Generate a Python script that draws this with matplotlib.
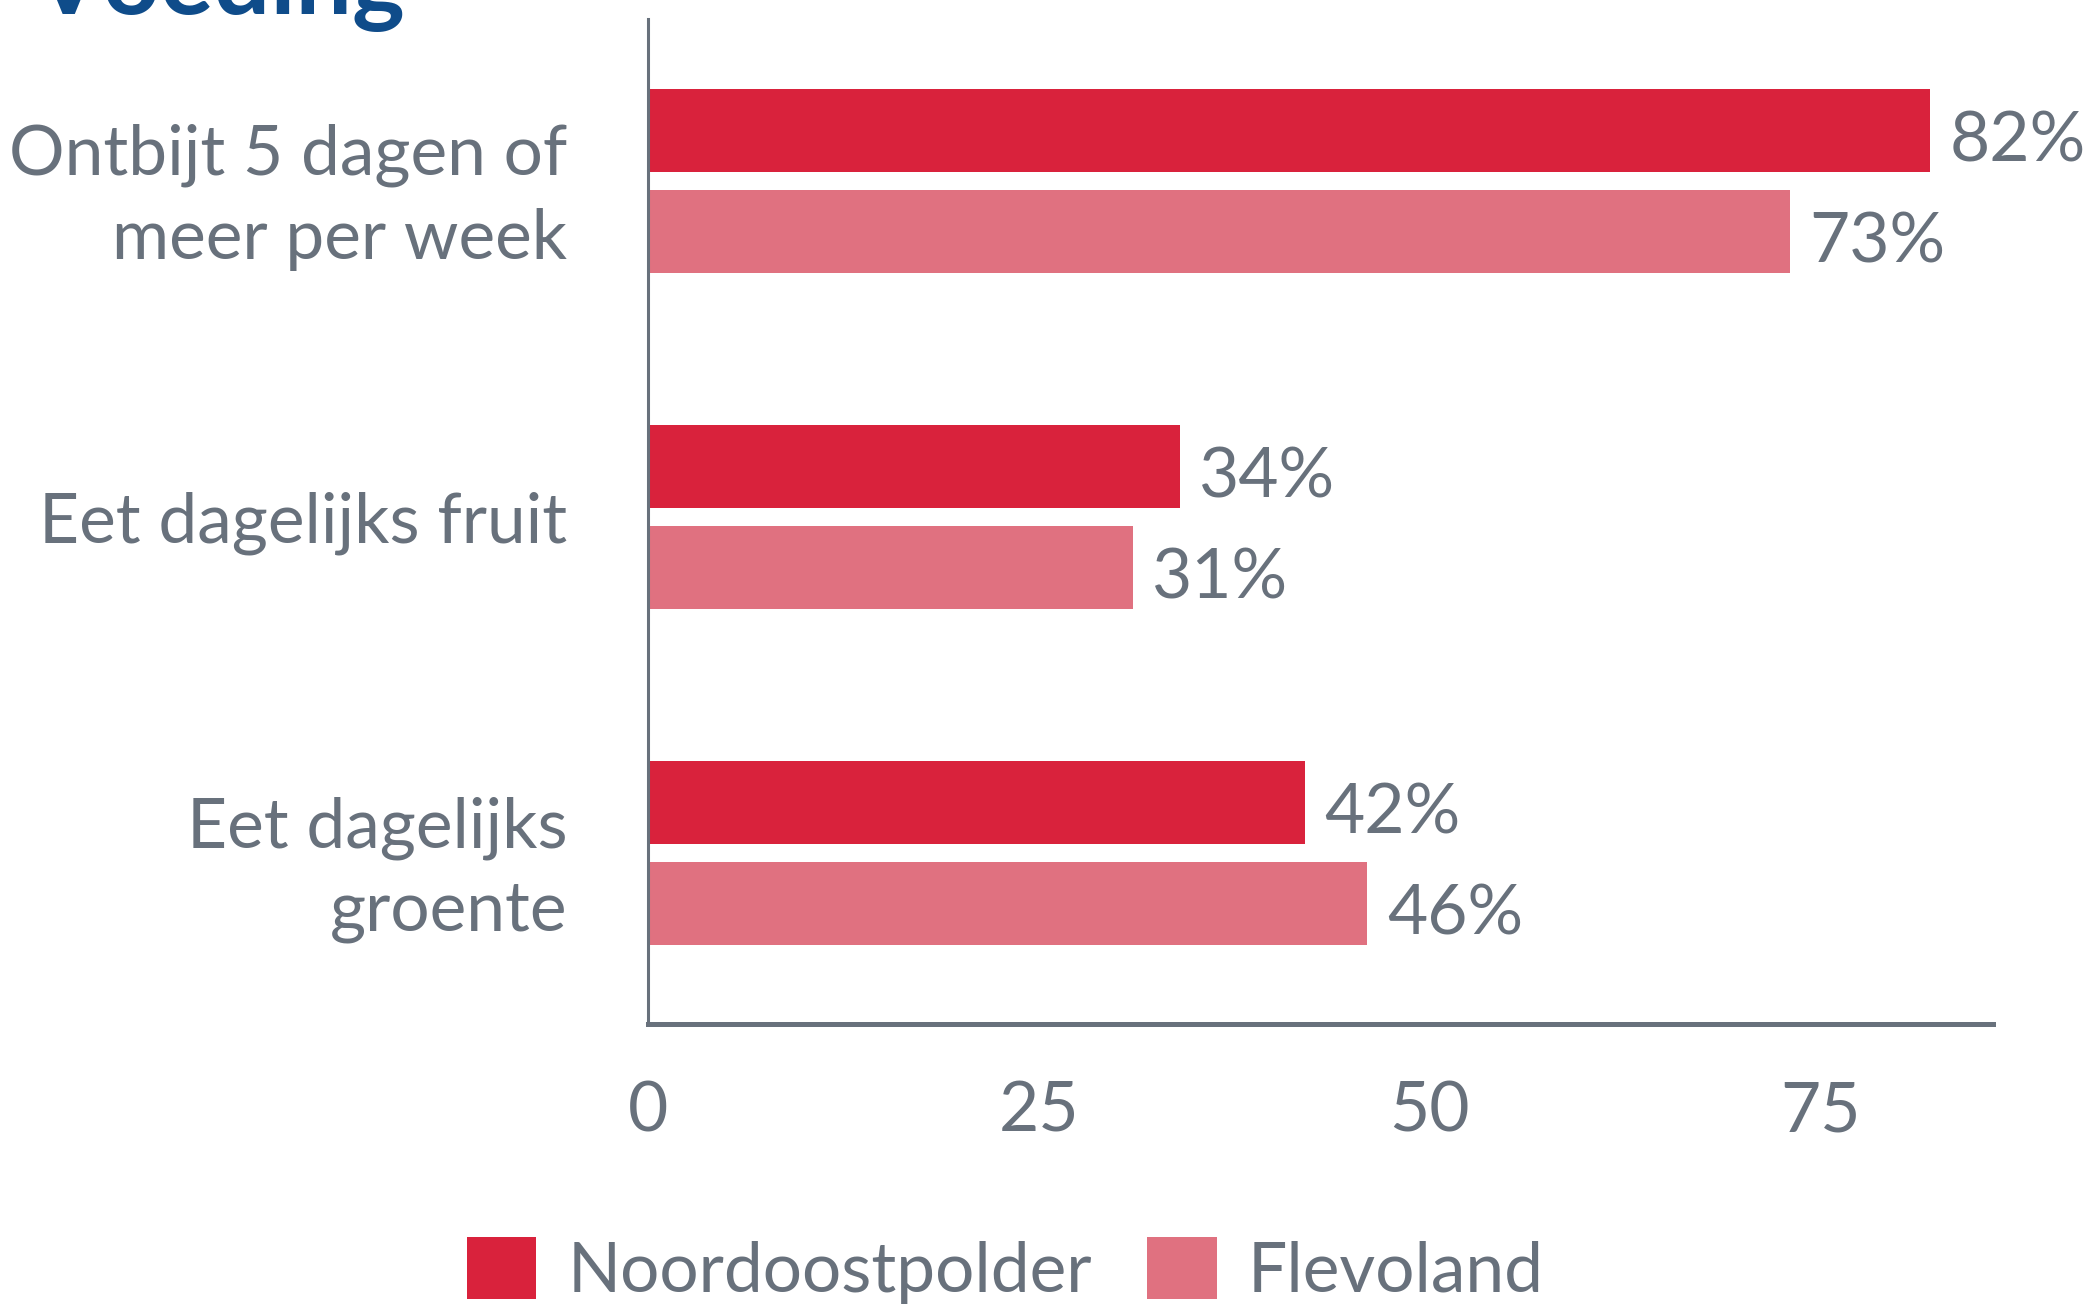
import numpy as np
import matplotlib.pyplot as plt
from matplotlib.patches import Patch

categories = ['Ontbijt 5 dagen of\nmeer per week', 'Eet dagelijks fruit', 'Eet dagelijks\ngroente']
noordoostpolder = [82, 34, 42]
flevoland = [73, 31, 46]
series_names = ['Noordoostpolder', 'Flevoland']
xticks = [0, 25, 50, 75]

red = '#D9223C'
pink = '#E07180'
grey = '#68717C'

plt.rcParams['font.family'] = ['Lato', 'DejaVu Sans']
fs = 50

fig = plt.figure(figsize=(20.9, 13.05), dpi=100)
ax = fig.add_axes([0.310, 0.2153, 0.6436, 0.7701])

y = np.arange(len(categories))
h = 0.247
off = 0.151
b1 = ax.barh(y - off, noordoostpolder, height=h, color=red)
b2 = ax.barh(y + off, flevoland, height=h, color=pink)

for bars, vals in [(b1, noordoostpolder), (b2, flevoland)]:
    for bar, v in zip(bars, vals):
        ax.annotate(f'{v}%', (bar.get_width(), bar.get_y() + bar.get_height() / 2),
                    xytext=(14, -4), textcoords='offset points',
                    va='center_baseline', ha='left', fontsize=fs, color=grey)

ax.set_xlim(0, 86)
ax.set_ylim(2.509, -0.482)
ax.set_yticks(y)
ax.set_yticklabels(categories, fontsize=fs, color=grey, linespacing=1.4)
ax.set_xticks(xticks)
ax.set_xticklabels([str(t) for t in xticks], fontsize=fs, color=grey)
ax.tick_params(axis='y', length=0, pad=58)
ax.tick_params(axis='x', length=0, pad=41)
for lbl in ax.get_yticklabels():
    lbl.set_horizontalalignment('right')

ax.spines['top'].set_visible(False)
ax.spines['right'].set_visible(False)
ax.spines['left'].set_color(grey)
ax.spines['left'].set_linewidth(2.2)
ax.spines['bottom'].set_color(grey)
ax.spines['bottom'].set_linewidth(3.6)

# title, mostly cut off at the top
fig.text(0.016, 0.989, 'Voeding', fontsize=72, fontweight='bold', color='#0F4C8A',
         va='baseline', ha='left')

handles = [Patch(facecolor=red, edgecolor='none'), Patch(facecolor=pink, edgecolor='none')]
fig.legend(handles, series_names, loc='upper center', bbox_to_anchor=(0.481, 0.100),
           ncol=2, frameon=False, fontsize=fs, labelcolor=grey,
           handlelength=1.0, handleheight=1.0, handletextpad=0.45, columnspacing=0.8)

fig.savefig('out.png', dpi=100)
